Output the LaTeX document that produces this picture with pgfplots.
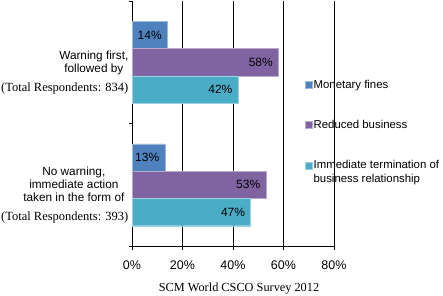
\documentclass[border=0pt]{standalone}
\usepackage{fontspec}
\setmainfont{Liberation Sans}
\newfontfamily\serif{Liberation Serif}
\usepackage{pgfplots}
\pgfplotsset{compat=1.18}
\definecolor{blueA}{RGB}{79,129,189}
\definecolor{purpleA}{RGB}{128,100,162}
\definecolor{cyanA}{RGB}{75,172,198}
\pgfplotsset{legimgup/.style={legend image code/.code={\fill[##1] (0pt,3.5pt) rectangle (7pt,10.5pt);}}}
\newcommand\labA{\begin{tabular}{@{}r@{}}\begin{tabular}[b]{@{}c@{}}Warning first,\\followed by\end{tabular}\\[5.5pt]{\serif\fontsize{12.5}{15}\selectfont (Total Respondents: 834)}\end{tabular}}
\newcommand\labB{\begin{tabular}{@{}r@{}}\begin{tabular}[b]{@{}c@{}}No warning,\\immediate action\\taken in the form of\end{tabular}\hspace*{4pt}\\[5.5pt]{\serif\fontsize{12.5}{15}\selectfont (Total Respondents: 393)}\end{tabular}}
\begin{document}
\fontsize{11.8}{13.3}\selectfont
\begin{tikzpicture}
\path[use as bounding box] (0,0) rectangle (443pt,295pt);
\begin{axis}[
  at={(132pt,49pt)}, anchor=south west,
  scale only axis, width=202pt, height=245pt,
  xbar, bar width=27.3pt,
  xmin=0, xmax=80, ymin=0.5, ymax=2.5,
  xtick={0,20,40,60,80},
  xticklabel={\pgfmathprintnumber{\tick}\%},
  /pgf/number format/assume math mode=true,
  ytick={0.5,1.5,2.5}, yticklabels={,,},
  extra y ticks={1,2},
  extra y tick labels={\labB,\labA},
  extra y tick style={tick style={draw=none}, yticklabel style={yshift=-10.5pt, xshift=4pt}},
  axis lines*=left,
  tick align=outside, major tick length=3.5pt,
  tick style={black, line width=0.6pt},
  axis line style={black, line width=0.6pt},
  xmajorgrids, major grid style={black, line width=0.6pt},
  xticklabel style={font=\fontsize{12.5}{14}\selectfont, yshift=-7pt},
  yticklabel style={font=\fontsize{11.8}{13.3}\selectfont},
  xlabel={\serif\fontsize{12.3}{14}\selectfont SCM World CSCO Survey 2012},
  xlabel style={at={(axis description cs:0.53,0)}, anchor=center, yshift=-43pt},
  nodes near coords={\pgfmathprintnumber{\pgfplotspointmeta}\%},
  nodes near coords style={anchor=east, xshift=-1.5pt, font=\fontsize{12}{13}\selectfont, black},
  legend style={at={(axis description cs:0.8416,0.688)}, anchor=north west, draw=none, fill=none,
    row sep=28pt, nodes={inner sep=1pt}, cells={align=left}, font=\fontsize{11.4}{13.5}\selectfont},
  legend cell align=left,
  legend image code/.code={\fill[#1] (0pt,-3pt) rectangle (7pt,4pt);},
]
\addplot[fill=blueA, draw=blueA!55!white, line width=0.4pt, bar shift=27.3pt] coordinates {(13,1) (14,2)};
\addplot[fill=purpleA, draw=purpleA!55!white, line width=0.4pt, bar shift=0pt] coordinates {(53,1) (58,2)};
\addplot[fill=cyanA, draw=cyanA!55!white, line width=0.4pt, bar shift=-27.3pt, legimgup] coordinates {(47,1) (42,2)};
\legend{Monetary fines, Reduced business, Immediate termination of\\business relationship}
\end{axis}
\end{tikzpicture}
\end{document}
